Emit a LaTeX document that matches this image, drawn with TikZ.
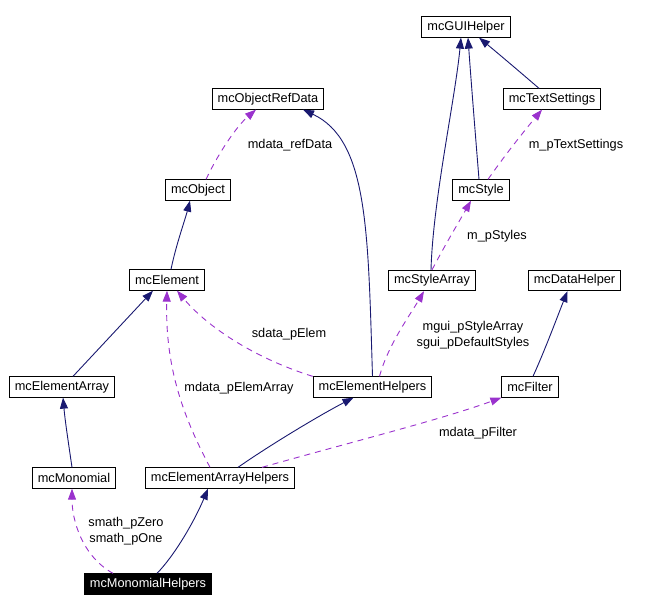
\documentclass[tikz,border=0pt]{standalone}
\usepackage{fontspec}
\setmainfont{Liberation Sans}
\usepackage{tikz}
\usetikzlibrary{arrows.meta}
\definecolor{inhblue}{HTML}{191970}
\definecolor{usepurple}{HTML}{9A32CD}

\begin{document}
\begin{tikzpicture}[x=1bp, y=-1bp,
    cls/.style={draw, line width=0.8bp, minimum height=20.5bp,
                inner xsep=5.5bp, inner ysep=0bp, font=\fontsize{12.8}{16}\selectfont},
    inh/.style={draw=inhblue, line width=0.9bp,
                -{Triangle[length=11bp,width=8bp]}},
    usage/.style={draw=usepurple, line width=0.9bp, dash pattern=on 6bp off 5bp,
                -{Triangle[length=11bp,width=8bp]}},
    lbl/.style={font=\fontsize{12.8}{16}\selectfont, align=center, inner sep=0bp}
  ]
    \useasboundingbox (0,0) rectangle (652,612);

    % classes
    \node[cls] (gui)  at (466,27)    {mcGUIHelper};
    \node[cls] (txt)  at (552,99)    {mcTextSettings};
    \node[cls] (sty)  at (481,190)   {mcStyle};
    \node[cls] (sarr) at (432,280.5) {mcStyleArray};
    \node[cls] (dh)   at (574.5,280.5) {mcDataHelper};
    \node[cls] (ord)  at (268,99)    {mcObjectRefData};
    \node[cls] (obj)  at (198,190)   {mcObject};
    \node[cls] (elem) at (167,280)   {mcElement};
    \node[cls] (earr) at (62,387)    {mcElementArray};
    \node[cls] (eh)   at (372.5,387) {mcElementHelpers};
    \node[cls] (filt) at (530,387)   {mcFilter};
    \node[cls] (mono) at (74,478)    {mcMonomial};
    \node[cls] (eah)  at (220,478)   {mcElementArrayHelpers};
    \node[cls, fill=black, text=white] (mh) at (148,584) {mcMonomialHelpers};

    % inheritance
    \draw[inh] ([xshift=4bp]elem.north) .. controls (176,245) and (185,220) .. ([xshift=-8bp]obj.south);
    \draw[inh] ([xshift=11bp]earr.north) -- ([xshift=-14bp]elem.south);
    \draw[inh] ([xshift=-2bp]mono.north) .. controls (68,440) and (65,420) .. ([xshift=1bp]earr.south);
    \draw[inh] ([xshift=9bp]mh.north) .. controls (175,555) and (195,520) .. ([xshift=-12bp]eah.south);
    \draw[inh] ([xshift=18bp]eah.north) .. controls (270,445) and (320,415) .. ([xshift=-19bp]eh.south);
    \draw[inh] (eh.north) .. controls (368,230) and (368,140) .. ([xshift=35bp]ord.south);
    \draw[inh] ([xshift=-1bp]sarr.north) .. controls (433,200) and (455,100) .. ([xshift=-5bp]gui.south);
    \draw[inh] ([xshift=-2bp]sty.north) .. controls (475,130) and (471,80) .. ([xshift=2bp]gui.south);
    \draw[inh] ([xshift=-13bp]txt.north) .. controls (520,72) and (500,55) .. ([xshift=13bp]gui.south);
    \draw[inh] ([xshift=3bp]filt.north) .. controls (545,350) and (558,315) .. ([xshift=-7bp]dh.south);

    % usage
    \draw[usage] ([xshift=8bp]obj.north) .. controls (220,150) and (238,125) .. ([xshift=-12bp]ord.south);
    \draw[usage] ([xshift=-35bp]mh.north) .. controls (82,556) and (72,520) .. ([xshift=-2bp]mono.south);
    \draw[usage] ([xshift=-10bp]eah.north) .. controls (185,420) and (165,370) .. (elem.south);
    \draw[usage] ([xshift=42bp]eah.north) .. controls (340,445) and (440,420) .. (filt.south west);
    \draw[usage] (eh.north west) .. controls (260,360) and (210,330) .. ([xshift=10bp]elem.south);
    \draw[usage] ([xshift=7bp]eh.north) .. controls (388,345) and (410,315) .. ([xshift=-8bp]sarr.south);
    \draw[usage] (sarr.north) .. controls (445,245) and (460,220) .. ([xshift=-10bp]sty.south);
    \draw[usage] ([xshift=7bp]sty.north) .. controls (505,155) and (525,130) .. ([xshift=-10bp]txt.south);

    % member names
    \node[lbl] (lrefdata) at (290,145) {mdata\_refData};
    \node[lbl] (ltxt)     at (576,145) {m\_pTextSettings};
    \node[lbl] (lsty)     at (497,236) {m\_pStyles};
    \node[lbl] (lelem)    at (289,334) {sdata\_pElem};
    \node[lbl] (lsarr)    at (473,335) {mgui\_pStyleArray\\sgui\_pDefaultStyles};
    \node[lbl] (learr)    at (239,388) {mdata\_pElemArray};
    \node[lbl] (lfilt)    at (478,433) {mdata\_pFilter};
    \node[lbl] (lmono)    at (126,531) {smath\_pZero\\smath\_pOne};
\end{tikzpicture}
\end{document}
